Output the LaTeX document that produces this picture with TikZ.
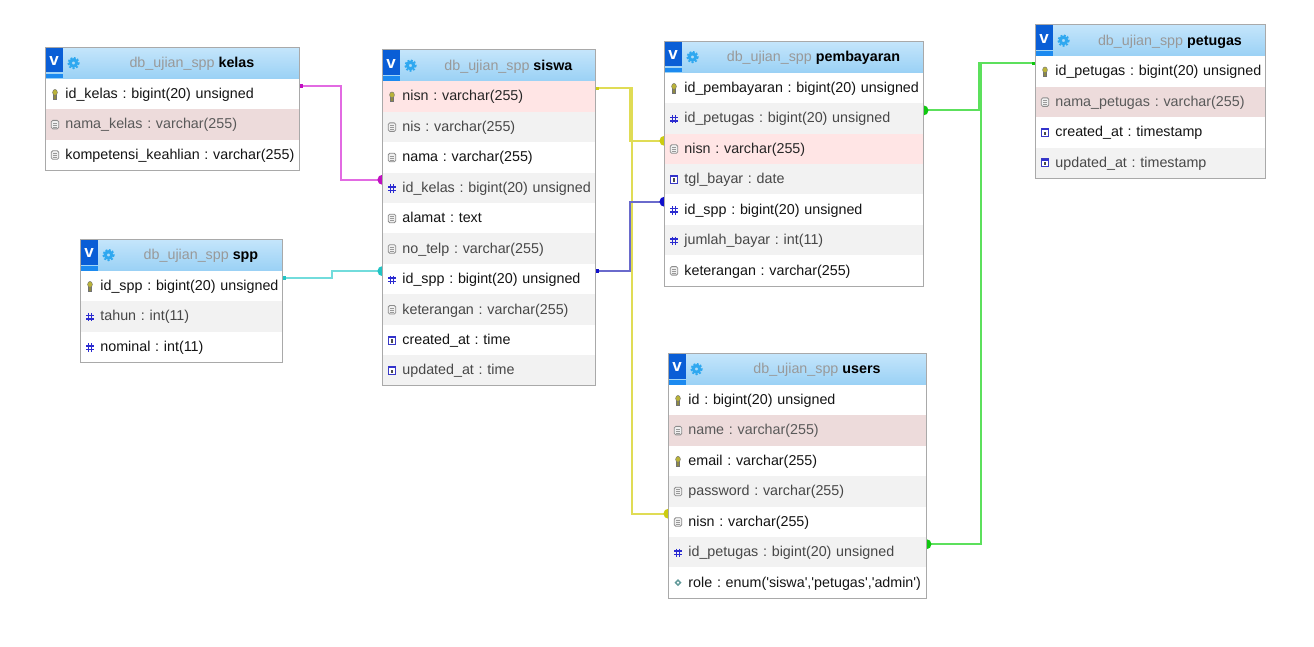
\documentclass[tikz,border=0pt]{standalone}
\usepackage{fontspec}
\setmainfont{Liberation Sans}
\usepackage{xcolor}
\usetikzlibrary{calc,arrows.meta}
\pgfdeclarelayer{back}
\pgfsetlayers{back,main}
\definecolor{headtop}{HTML}{C4E5FB}
\definecolor{headbot}{HTML}{9AD1F5}
\definecolor{framegray}{HTML}{A9A9A9}
\definecolor{vblue}{HTML}{0A5ED6}
\definecolor{vstripe}{HTML}{1C8AF0}
\definecolor{gearblue}{HTML}{2FA8F0}
\definecolor{hashblue}{HTML}{2A2AD0}
\definecolor{magline}{HTML}{E26AE2}
\definecolor{magdot}{HTML}{C010C0}
\definecolor{tealline}{HTML}{72DCDC}
\definecolor{tealdot}{HTML}{20C4C4}
\definecolor{yelline}{HTML}{E0DC55}
\definecolor{yeldot}{HTML}{CCCC10}
\definecolor{blueline}{HTML}{6A6ACC}
\definecolor{bluedot}{HTML}{1010CC}
\definecolor{grnline}{HTML}{5CE05C}
\definecolor{grndot}{HTML}{10C810}
\tikzset{
  rowbase/.style={inner sep=0pt,minimum height=30.45pt,text height=11pt,text depth=2pt,anchor=north west,font=\fontsize{14.3}{16}\selectfont\frenchspacing},
  rowa/.style={rowbase,fill=white,text=black!92},
  rowb/.style={rowbase,fill=black!5,text=black!72},
  rowc/.style={rowbase,fill=red!10,text=black!85},
  rowd/.style={rowbase,fill=red!50!black!14!white,text=black!65},
  headbox/.style={inner sep=0pt,minimum height=31pt,anchor=north west,top color=headtop,bottom color=headbot},
  headtext/.style={font=\fontsize{14.3}{16}\selectfont,inner sep=0pt},
  vtext/.style={font=\fontsize{17}{16}\selectfont\bfseries,text=white,inner sep=0pt},
  fkline/.style 2 args={draw=#1,line width=2pt,shorten >=-5pt,{Square[length=3.5pt,width=3.5pt,color=#2]}-{Circle[length=10pt,width=10pt,color=#2]}},
  iconkey/.pic={
    \fill[olive!55!gray,draw=black!55,line width=.4pt] (-1.6,0.5) rectangle (1.6,5);
    \fill[olive!45!yellow!70!gray,draw=black!55,line width=.4pt] (0,-1.5) ellipse (2.4 and 3);
  },
  iconfile/.pic={
    \draw[black!45,fill=black!6,line width=.8pt,rounded corners=1.5pt] (-3.8,-4) rectangle (3.8,4.5);
    \draw[black!40,line width=.6pt] (-1.8,-1.5)--(1.8,-1.5) (-1.8,.5)--(1.8,.5) (-1.8,2.5)--(1.8,2.5);
  },
  iconhash/.pic={
    \draw[hashblue,line width=1.5pt] (-1.4,-3.5)--(-1.4,5) (1.6,-3.5)--(1.6,5) (-3.6,-1)--(3.8,-1) (-3.6,2.5)--(3.8,2.5);
  },
  icondate/.pic={
    \draw[blue!55!gray,fill=white,line width=1pt] (-3.5,-4) rectangle (3.5,4);
    \fill[blue!60!gray] (-3.5,-4) rectangle (3.5,-2);
    \fill[black!70] (-1,-.8) rectangle (1.2,2.6);
  },
  iconenum/.pic={
    \fill[teal!55!gray!80] (0,-3.5)--(3.5,0)--(0,3.5)--(-3.5,0)--cycle;
    \fill[white] (0,-1.2)--(1.2,0)--(0,1.2)--(-1.2,0)--cycle;
  },
}
\newcommand{\dbtable}[6]{
  \node[headbox,minimum width=#4pt] (#1-head) at (#2,#3) {};
  \node[headtext] (#1-title) at ([xshift=19.5pt,yshift=-.8pt]#1-head.center) {\textcolor{black!40}{db\_ujian\_spp} \textbf{#5}};
  \fill[vblue] (#2,#3) rectangle ++(17,25);
  \fill[vstripe] (#2,#3+26.5) rectangle ++(17,4.5);
  \node[vtext] (#1-v) at (#2+8.5,#3+14) {v};
  \draw[gearblue,line width=3pt] (#2+28,#3+15.5) circle (3.2);
  \draw[gearblue,line width=1.6pt,dash pattern=on 2pt off 1.6pt] (#2+28,#3+15.5) circle (5.4);
  \foreach \ic/\txt/\st [count=\n] in {#6}{
    \node[\st,text width=#4pt] (#1-\n) at (#2,{#3+31+(\n-1)*30.45}) {\hspace*{19.7pt}\txt};
    \pic at ([xshift=9.5pt]#1-\n.west) {icon\ic};
    \xdef\lastrow{\n}
  }
  \draw[framegray,line width=1pt] (#1-head.north west) rectangle (#1-\lastrow.south east);
}
\newcommand{\fklink}[4]{
  \begin{pgfonlayer}{back}
  \draw[fkline={#1}{#2}] ([yshift=8pt]#3) -| ($([yshift=8pt]#3)!.5!([yshift=8pt]#4)$) |- ([yshift=8pt]#4);
  \end{pgfonlayer}
}
\newcommand{\q}{\textquotesingle}
\begin{document}
\begin{tikzpicture}[x=1pt,y=-1pt]
\useasboundingbox (0,0) rectangle (1314,647);
\dbtable{kelas}{45.5}{47.5}{253.5}{kelas}{
  key/{id\_kelas : bigint(20) unsigned}/rowa,
  file/{nama\_kelas : varchar(255)}/rowd,
  file/{kompetensi\_keahlian : varchar(255)}/rowa}
\dbtable{spp}{80.5}{239.5}{201.5}{spp}{
  key/{id\_spp : bigint(20) unsigned}/rowa,
  hash/{tahun : int(11)}/rowb,
  hash/{nominal : int(11)}/rowa}
\dbtable{siswa}{382.5}{50}{212.5}{siswa}{
  key/{nisn : varchar(255)}/rowc,
  file/{nis : varchar(255)}/rowb,
  file/{nama : varchar(255)}/rowa,
  hash/{id\_kelas : bigint(20) unsigned}/rowb,
  file/{alamat : text}/rowa,
  file/{no\_telp : varchar(255)}/rowb,
  hash/{id\_spp : bigint(20) unsigned}/rowa,
  file/{keterangan : varchar(255)}/rowb,
  date/{created\_at : time}/rowa,
  date/{updated\_at : time}/rowb}
\dbtable{pembayaran}{664.5}{41.5}{258.5}{pembayaran}{
  key/{id\_pembayaran : bigint(20) unsigned}/rowa,
  hash/{id\_petugas : bigint(20) unsigned}/rowb,
  file/{nisn : varchar(255)}/rowc,
  date/{tgl\_bayar : date}/rowb,
  hash/{id\_spp : bigint(20) unsigned}/rowa,
  hash/{jumlah\_bayar : int(11)}/rowb,
  file/{keterangan : varchar(255)}/rowa}
\dbtable{users}{668.5}{353.5}{257.5}{users}{
  key/{id : bigint(20) unsigned}/rowa,
  file/{name : varchar(255)}/rowd,
  key/{email : varchar(255)}/rowa,
  file/{password : varchar(255)}/rowb,
  file/{nisn : varchar(255)}/rowa,
  hash/{id\_petugas : bigint(20) unsigned}/rowb,
  enum/{role : enum(\q siswa\q,\q petugas\q,\q admin\q)}/rowa}
\dbtable{petugas}{1035.5}{25}{229.5}{petugas}{
  key/{id\_petugas : bigint(20) unsigned}/rowa,
  file/{nama\_petugas : varchar(255)}/rowd,
  date/{created\_at : timestamp}/rowa,
  date/{updated\_at : timestamp}/rowb}
\fklink{magline}{magdot}{kelas-1.east}{siswa-4.west}
\fklink{tealline}{tealdot}{spp-1.east}{siswa-7.west}
\fklink{yelline}{yeldot}{siswa-1.east}{pembayaran-3.west}
\fklink{yelline}{yeldot}{siswa-1.east}{users-5.west}
\fklink{blueline}{bluedot}{siswa-7.east}{pembayaran-5.west}
\fklink{grnline}{grndot}{petugas-1.west}{pembayaran-2.east}
\fklink{grnline}{grndot}{petugas-1.west}{users-6.east}
\end{tikzpicture}
\end{document}
